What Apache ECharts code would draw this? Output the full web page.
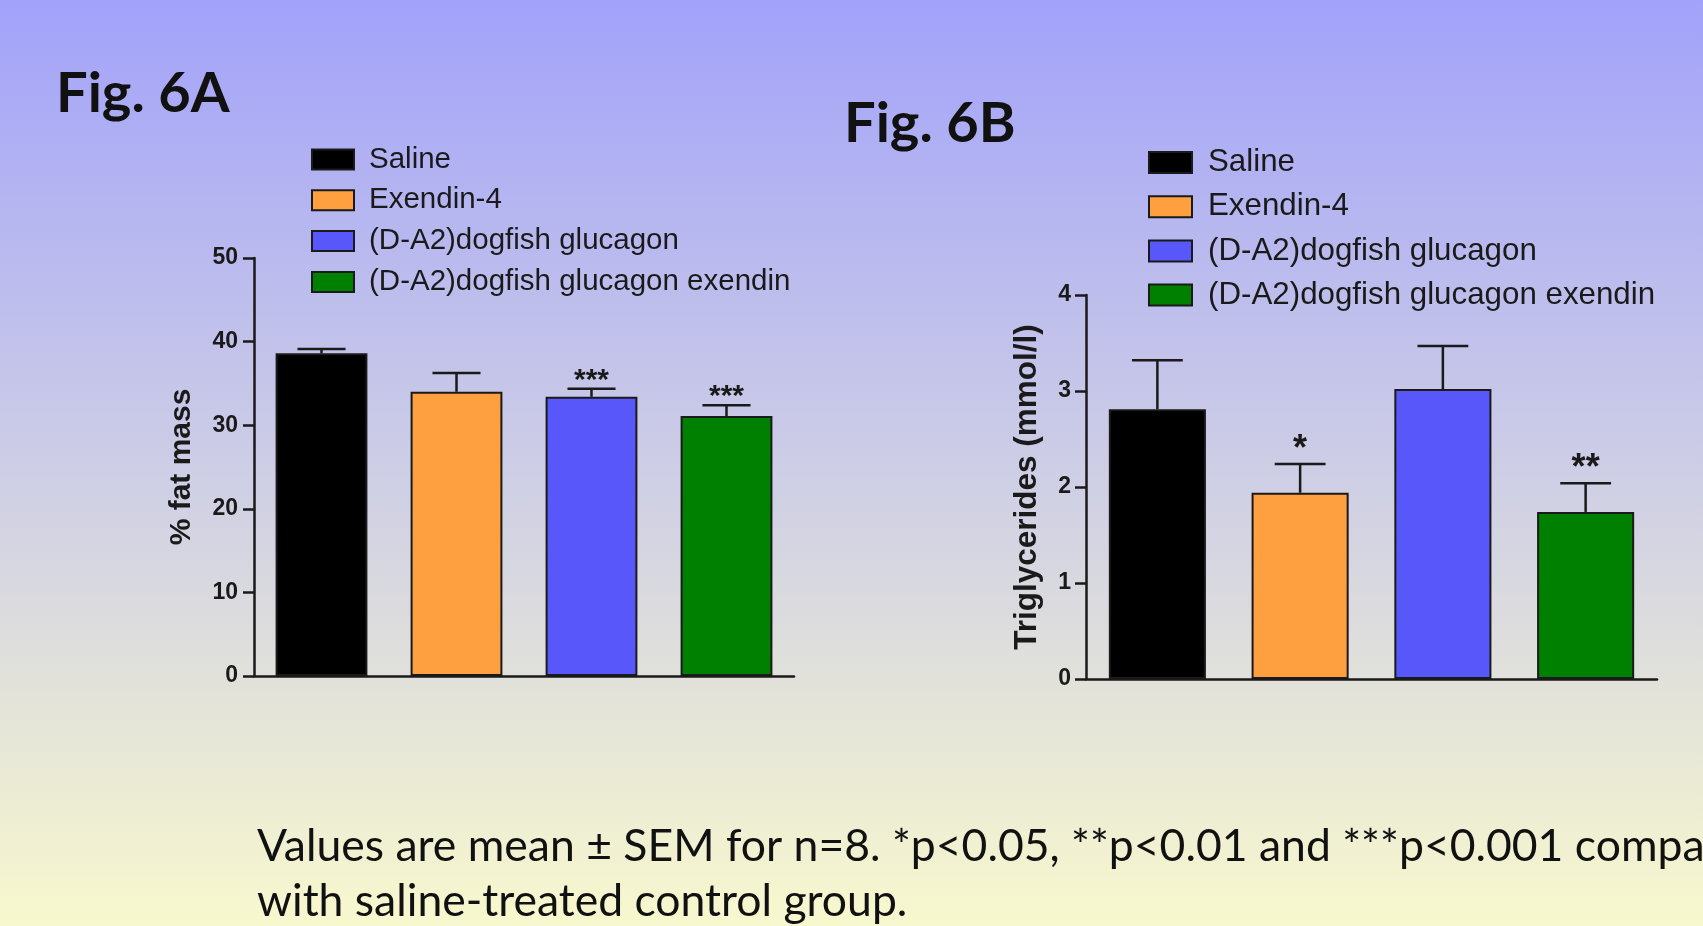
<!DOCTYPE html>
<html>
<head>
<meta charset="utf-8">
<script src="https://cdn.jsdelivr.net/npm/echarts@6/dist/echarts.min.js"></script>
<style>
  html, body { margin: 0; padding: 0; overflow: hidden; }
  #chart { width: 1703px; height: 926px; }
</style>
</head>
<body>
<div id="chart"></div>
<script>
// Treatment groups shared by both panels
const groups = ['Saline', 'Exendin-4', '(D-A2)dogfish glucagon', '(D-A2)dogfish glucagon exendin'];
const groupColors = ['#000000', '#ffa040', '#5858fa', '#008000'];

// Fig. 6A: % fat mass (mean, SEM, significance vs saline)
const fatMean = [38.6, 34.0, 33.4, 31.1];
const fatSem = [0.5, 2.25, 0.95, 1.3];
const fatSig = ['', '', '***', '***'];
const fatTicks = [0, 10, 20, 30, 40, 50];

// Fig. 6B: triglycerides in mmol/l (mean, SEM, significance vs saline)
const tgMean = [2.81, 1.94, 3.02, 1.74];
const tgSem = [0.51, 0.30, 0.45, 0.30];
const tgSig = ['', '*', '', '**'];
const tgTicks = [0, 1, 2, 3, 4];

const INK = '#1a1a1a';
const AXIS_FONT = '"Liberation Sans", Arial, sans-serif';

function barSeries(panel) {
  const means = panel === 0 ? fatMean : tgMean;
  return groups.map((name, i) => ({
    name: name,
    type: 'bar',
    xAxisIndex: panel,
    yAxisIndex: panel,
    barWidth: '68%',
    barGap: '-100%',
    itemStyle: { color: groupColors[i], borderColor: INK, borderWidth: 2 },
    data: [[i, means[i]]]
  }));
}

// SEM whiskers (upward only) plus significance stars
function errorSeries(panel, starSize, starLift) {
  const means = panel === 0 ? fatMean : tgMean;
  const sems = panel === 0 ? fatSem : tgSem;
  const sig = panel === 0 ? fatSig : tgSig;
  return {
    type: 'custom',
    xAxisIndex: panel,
    yAxisIndex: panel,
    z: 5,
    encode: { x: 0, y: [1, 2] },
    data: means.map((m, i) => [i, m, m + sems[i]]),
    renderItem: function (params, api) {
      const i = api.value(0);
      const base = api.coord([i, api.value(1)]);
      const top = api.coord([i, api.value(2)]);
      const half = api.size([1, 0])[0] * 0.178;
      const line = { stroke: INK, lineWidth: 2.5 };
      const children = [
        { type: 'line', shape: { x1: base[0], y1: base[1], x2: top[0], y2: top[1] }, style: line },
        { type: 'line', shape: { x1: top[0] - half, y1: top[1], x2: top[0] + half, y2: top[1] }, style: line }
      ];
      const s = sig[params.dataIndex];
      if (s) {
        children.push({
          type: 'text',
          x: top[0],
          y: top[1] - starLift,
          style: {
            text: s, fill: INK, align: 'center', verticalAlign: 'middle',
            font: 'bold ' + starSize + 'px ' + AXIS_FONT
          }
        });
      }
      return { type: 'group', children: children };
    }
  };
}

function valueAxis(panel, ticks, name, labelSize, nameSize, nameGap, margin) {
  return {
    gridIndex: panel,
    type: 'value',
    min: ticks[0],
    max: ticks[ticks.length - 1],
    interval: ticks[1] - ticks[0],
    axisLine: { show: true, lineStyle: { color: INK, width: 2.5 } },
    axisTick: { show: true, length: 11, lineStyle: { color: INK, width: 2.5 } },
    axisLabel: { margin: margin, fontSize: labelSize, fontWeight: 'bold', color: INK, fontFamily: AXIS_FONT },
    splitLine: { show: false },
    name: name,
    nameLocation: 'middle',
    nameRotate: 90,
    nameGap: nameGap,
    nameTextStyle: { fontSize: nameSize, fontWeight: 'bold', color: INK, fontFamily: AXIS_FONT }
  };
}

function categoryAxis(panel) {
  return {
    gridIndex: panel,
    type: 'category',
    data: groups,
    boundaryGap: true,
    axisLine: { show: true, lineStyle: { color: INK, width: 2.5 } },
    axisTick: { show: false },
    axisLabel: { show: false }
  };
}

function legend(left, top, size, lineH, gap, w, h, pad) {
  return {
    data: groups,
    orient: 'vertical',
    left: left,
    top: top,
    icon: 'rect',
    itemWidth: w,
    itemHeight: h,
    itemGap: gap,
    selectedMode: false,
    itemStyle: { borderColor: INK, borderWidth: 2 },
    textStyle: { fontFamily: AXIS_FONT, fontSize: size, lineHeight: lineH, color: INK, padding: [0, 0, 0, pad] }
  };
}

const chart = echarts.init(document.getElementById('chart'), null, { renderer: 'canvas' });

chart.setOption({
  animation: false,
  backgroundColor: {
    type: 'linear', x: 0, y: 0, x2: 0, y2: 1,
    colorStops: [
      { offset: 0, color: '#a2a2fa' },
      { offset: 0.5, color: '#cdcde6' },
      { offset: 1, color: '#f8f8ce' }
    ]
  },
  grid: [
    { left: 254, right: 909, top: 258, bottom: 250 },
    { left: 1086, right: 46, top: 295, bottom: 247 }
  ],
  xAxis: [categoryAxis(0), categoryAxis(1)],
  yAxis: [
    valueAxis(0, fatTicks, '% fat mass', 23, 30, 57, 16),
    valueAxis(1, tgTicks, 'Triglycerides (mmol/l)', 23, 31.5, 43, 15)
  ],
  legend: [
    legend(306, 139.5, 29.5, 30, 10.8, 42, 20, 10),
    legend(1143, 141.5, 31.3, 32, 12.2, 43, 21, 11)
  ],
  series: [].concat(barSeries(0), barSeries(1), [errorSeries(0, 30, 8), errorSeries(1, 36, 14)]),
  graphic: [
    { type: 'text', x: 56, y: 94, style: { text: 'Fig. 6A', font: 'bold 56px Lato', fill: '#111', verticalAlign: 'middle' } },
    { type: 'text', x: 844, y: 124, style: { text: 'Fig. 6B', font: 'bold 56px Lato', fill: '#111', verticalAlign: 'middle' } },
    { type: 'text', x: 257, y: 847, style: { text: 'Values are mean \u00b1 SEM for n=8. *p<0.05, **p<0.01 and ***p<0.001 compared', font: '44.5px Lato', fill: '#111', verticalAlign: 'middle' } },
    { type: 'text', x: 257, y: 902, style: { text: 'with saline-treated control group.', font: '44.5px Lato', fill: '#111', verticalAlign: 'middle' } }
  ]
});
</script>
</body>
</html>
